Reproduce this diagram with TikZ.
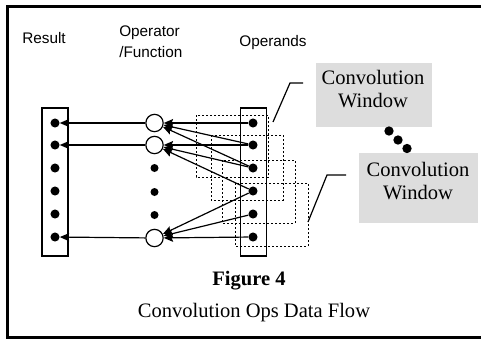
\documentclass[tikz,border=0pt]{standalone}
\usepackage{fontspec}
\setmainfont{Liberation Serif}
\setsansfont{Liberation Sans}
\usetikzlibrary{arrows.meta}
\definecolor{boxgrey}{RGB}{221,221,221}
\tikzset{
  dotn/.style={circle,fill=black,inner sep=0pt,minimum size=6.8pt},
  middot/.style={circle,fill=black,inner sep=0pt,minimum size=6pt},
  opn/.style={circle,draw=black,line width=0.9pt,fill=white,inner sep=0pt,minimum size=13pt},
  colbox/.style={draw=black,line width=1.1pt,inner sep=0pt,minimum width=19.75pt,minimum height=111pt},
  arr/.style={line width=0.9pt,-{Stealth[length=7pt,width=6pt,inset=1.2pt]}},
  win/.style={line width=0.6pt,dash pattern=on 1.5pt off 1.5pt},
  callout/.style={line width=0.9pt},
  greybox/.style={fill=boxgrey,draw=none},
  sanslbl/.style={font=\sffamily\fontsize{11.5pt}{14pt}\selectfont,inner sep=0pt,anchor=base},
  seriflbl/.style={font=\fontsize{15.4pt}{18pt}\selectfont,inner sep=0pt,anchor=base}
}
\begin{document}
\begin{tikzpicture}[x=0.75pt,y=-0.75pt]
\useasboundingbox (0,0) rectangle (481,339);
\clip (0,0) rectangle (481,339);
% frame (right side lies outside the picture)
\draw[line width=1.9pt] (520,6.5) -- (7.5,6.5) -- (7.5,337.5) -- (520,337.5);
% labels
\node[sanslbl] (lres) at (44,43) {Result};
\node[sanslbl,anchor=base west] (lop1) at (119,36.7) {Operator};
\node[sanslbl,anchor=base west] (lop2) at (119,57) {/Function};
\node[sanslbl] (lopd) at (273,46.7) {Operands};
% dashed windows
\draw[win] (196,115) rectangle (268,177);
\draw[win] (211,135) rectangle (283,200);
\draw[win] (222,160) rectangle (295,223);
\draw[win] (235,183) rectangle (308,246);
% column boxes
\node[colbox] (resbox) at (55,182) {};
\node[colbox] (opdbox) at (253.5,182) {};
% result and operand dots
\foreach \i/\y in {1/123,2/145,3/168,4/191,5/214,6/237}{
  \node[dotn] (r\i) at (55,\y) {};
  \node[dotn] (o\i) at (253,\y) {};
}
% operators
\node[opn] (c1) at (154.5,123) {};
\node[opn] (c2) at (154.5,145) {};
\node[opn] (c3) at (154.5,238) {};
\node[middot] (m1) at (154.5,168) {};
\node[middot] (m2) at (154.5,192) {};
\node[middot] (m3) at (154.5,215) {};
% arrows to result
\draw[arr] (c1) -- (r1);
\draw[arr] (c2) -- (r2);
\draw[arr] (c3) -- (r6);
% arrows from operands
\foreach \s in {1,2,3}{ \draw[arr] (o\s) -- (c1); }
\foreach \s in {2,3,4}{ \draw[arr] (o\s) -- (c2); }
\foreach \s in {4,5,6}{ \draw[arr] (o\s) -- (c3); }
% grey boxes
\node[greybox,minimum width=87pt,minimum height=48pt,inner sep=0pt] (g1) at (374,95) {};
\node[greybox,minimum width=89.25pt,minimum height=52.5pt,inner sep=0pt] (g2) at (418.5,188) {};
\node[seriflbl] (g1a) at (373,84) {Convolution};
\node[seriflbl] (g1b) at (373,107) {Window};
\node[seriflbl] (g2a) at (418,176) {Convolution};
\node[seriflbl] (g2b) at (418,199) {Window};
% ellipsis dots
\node[dotn,minimum size=7pt] (e1) at (389,131) {};
\node[dotn,minimum size=7pt] (e2) at (398,140) {};
\node[dotn,minimum size=7pt] (e3) at (407,148.5) {};
% callouts
\coordinate (k1a) at (273,122);
\coordinate (k1b) at (290,83);
\coordinate (k1c) at (303,83);
\draw[callout] (k1a) -- (k1b) -- (k1c);
\coordinate (k2a) at (308,222);
\coordinate (k2b) at (327,175);
\coordinate (k2c) at (346,175);
\draw[callout] (k2a) -- (k2b) -- (k2c);
% caption
\node[seriflbl,font=\bfseries\fontsize{15.4pt}{18pt}\selectfont] (fig) at (249,285) {Figure 4};
\node[seriflbl] (cap) at (254,317) {Convolution Ops Data Flow};
\end{tikzpicture}
\end{document}
